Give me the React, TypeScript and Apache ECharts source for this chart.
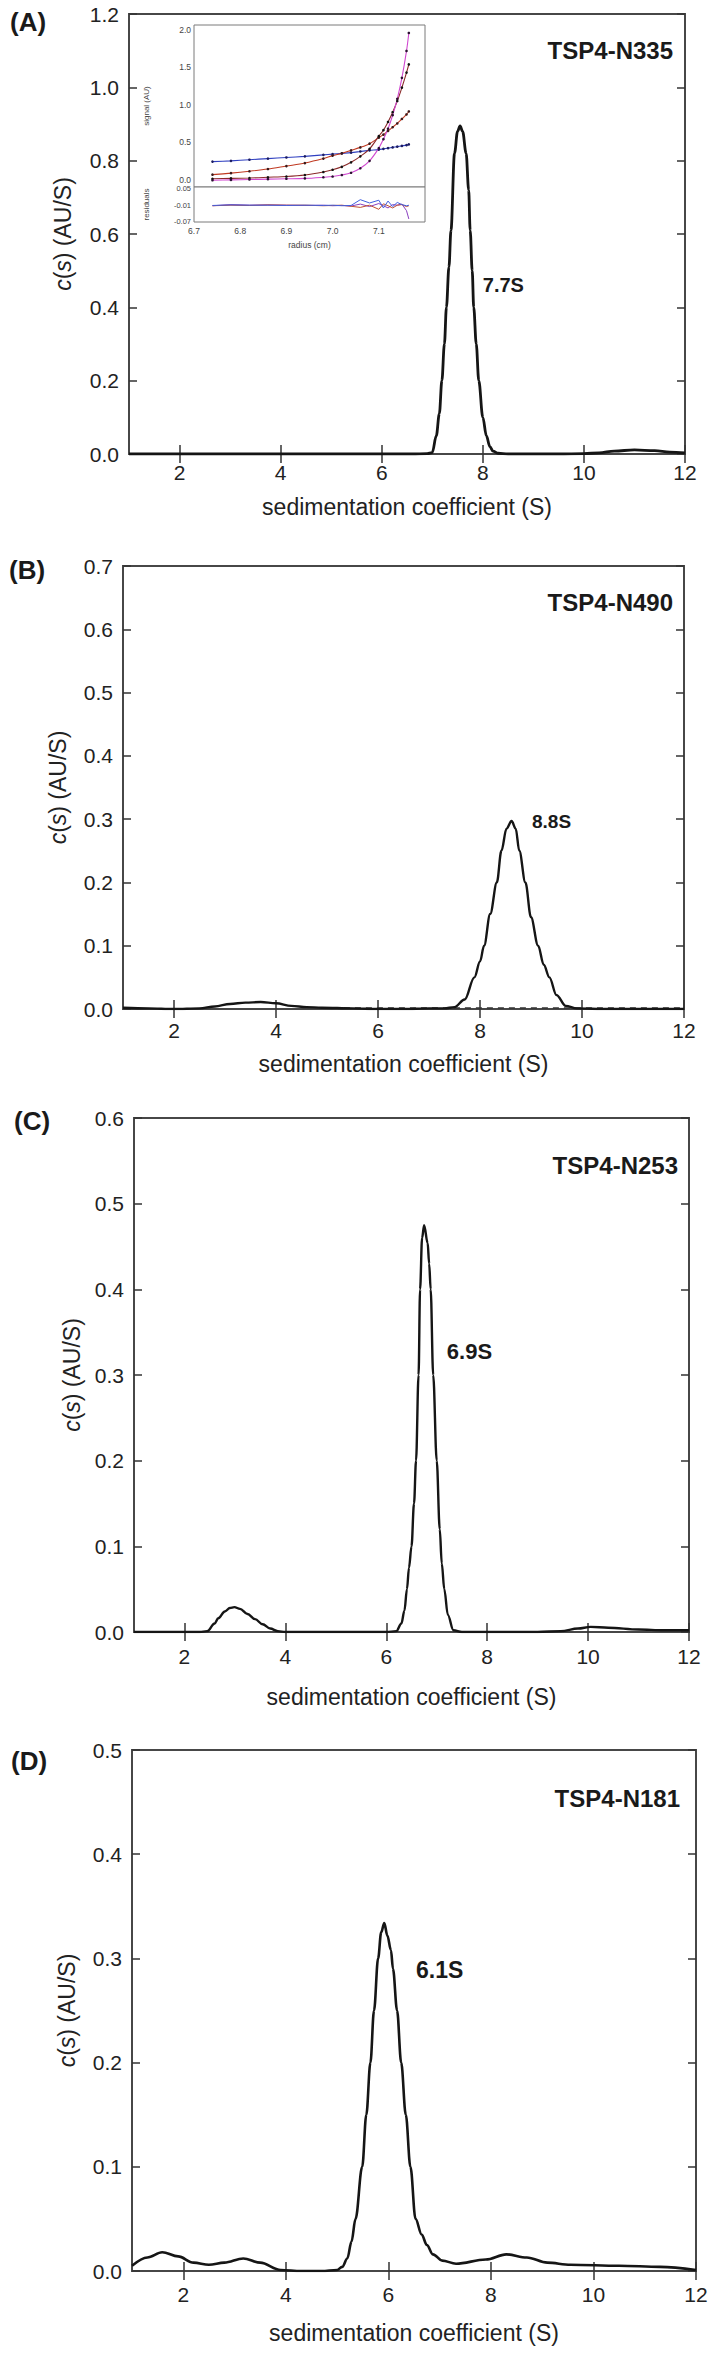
import React, { useEffect, useRef } from "react";
import * as echarts from "echarts";

// ---------------- data ----------------
const xTicks = [2, 4, 6, 8, 10, 12];

// Panel A: TSP4-N335
const aS = [1, 2, 3, 4, 5, 6, 6.6, 6.9, 7.0, 7.08, 7.14, 7.19, 7.24, 7.28, 7.33, 7.37, 7.44, 7.5, 7.55, 7.6, 7.67, 7.72, 7.75, 7.79, 7.82, 7.87, 7.92, 8.0, 8.07, 8.14, 8.2, 8.3, 8.5, 9, 9.5, 10, 10.3, 10.6, 11.0, 11.4, 11.7, 12];
const aC = [0, 0, 0, 0, 0, 0, 0, 0.001, 0.004, 0.05, 0.11, 0.2, 0.3, 0.4, 0.51, 0.61, 0.82, 0.88, 0.895, 0.88, 0.82, 0.72, 0.61, 0.5, 0.4, 0.3, 0.2, 0.1, 0.05, 0.02, 0.008, 0.002, 0, 0, 0, 0.001, 0.003, 0.008, 0.011, 0.009, 0.005, 0.003];

// Panel B: TSP4-N490
const bS = [1, 1.5, 2, 2.5, 2.8, 3.1, 3.4, 3.7, 4.0, 4.3, 4.6, 4.9, 5.5, 6, 6.5, 7, 7.3, 7.5, 7.7, 7.89, 8.0, 8.08, 8.2, 8.33, 8.42, 8.52, 8.62, 8.7, 8.77, 8.89, 9.0, 9.14, 9.25, 9.36, 9.5, 9.68, 9.9, 10.5, 11, 11.5, 12];
const bC = [0.002, 0.001, 0.0, 0.001, 0.004, 0.008, 0.01, 0.011, 0.009, 0.005, 0.003, 0.002, 0.001, 0.0, 0.0, 0.001, 0.001, 0.003, 0.015, 0.05, 0.075, 0.1, 0.15, 0.2, 0.25, 0.285, 0.297, 0.285, 0.25, 0.2, 0.145, 0.1, 0.07, 0.05, 0.022, 0.005, 0.001, 0, 0, 0, 0];
const bDashS = [4.9, 6, 7, 8, 9, 10, 11, 12];
const bDashC = [0.0015, 0.0015, 0.0015, 0.0015, 0.0015, 0.0015, 0.0015, 0.0015];

// Panel C: TSP4-N253
const cS = [1, 2, 2.3, 2.45, 2.6, 2.67, 2.8, 2.9, 2.99, 3.1, 3.25, 3.4, 3.55, 3.7, 3.85, 4.0, 4.5, 5, 5.5, 6.0, 6.2, 6.3, 6.36, 6.41, 6.45, 6.5, 6.55, 6.59, 6.64, 6.67, 6.71, 6.75, 6.82, 6.85, 6.88, 6.93, 7.0, 7.06, 7.1, 7.15, 7.22, 7.33, 7.5, 8, 9, 9.46, 9.8, 10.05, 10.4, 11, 11.5, 12];
const cC = [0, 0, 0, 0.001, 0.01, 0.016, 0.024, 0.028, 0.029, 0.027, 0.021, 0.015, 0.009, 0.004, 0.001, 0, 0, 0, 0, 0, 0.001, 0.01, 0.025, 0.05, 0.075, 0.1, 0.15, 0.2, 0.3, 0.4, 0.46, 0.475, 0.454, 0.43, 0.4, 0.3, 0.2, 0.12, 0.08, 0.05, 0.02, 0.002, 0, 0, 0, 0.001, 0.004, 0.006, 0.005, 0.003, 0.002, 0.002];

// Panel D: TSP4-N181
const dS = [1, 1.3, 1.59, 1.9, 2.2, 2.5, 2.8, 3.17, 3.5, 3.9, 4.3, 4.7, 5.0, 5.1, 5.2, 5.28, 5.36, 5.49, 5.57, 5.65, 5.72, 5.8, 5.86, 5.92, 5.98, 6.05, 6.09, 6.17, 6.25, 6.34, 6.43, 6.53, 6.65, 6.75, 6.87, 7.05, 7.32, 7.9, 8.3, 8.7, 9.1, 9.55, 10.5, 11.3, 12];
const dC = [0.005, 0.013, 0.018, 0.014, 0.008, 0.006, 0.008, 0.012, 0.008, 0.001, 0, 0, 0.001, 0.004, 0.012, 0.028, 0.05, 0.1, 0.15, 0.2, 0.25, 0.3, 0.325, 0.334, 0.322, 0.308, 0.29, 0.25, 0.2, 0.15, 0.1, 0.05, 0.035, 0.025, 0.016, 0.01, 0.007, 0.011, 0.016, 0.013, 0.008, 0.006, 0.005, 0.004, 0.001];

const panelLetters = ["(A)", "(B)", "(C)", "(D)"];
const sampleNames = ["TSP4-N335", "TSP4-N490", "TSP4-N253", "TSP4-N181"];
const peakLabels = ["7.7S", "8.8S", "6.9S", "6.1S"];
const peakLabelAt = [[8.0, 0.46], [9.02, 0.297], [7.2, 0.327], [6.54, 0.289]];
const yMaxes = [1.2, 0.7, 0.6, 0.5];
const yIntervals = [0.2, 0.1, 0.1, 0.1];

// Inset (panel A): raw data and fits
const insetR = [6.74, 6.78, 6.82, 6.86, 6.9, 6.94, 6.98, 7.0, 7.02, 7.04, 7.06, 7.08, 7.1, 7.11, 7.12, 7.13, 7.14, 7.15, 7.16, 7.165];
const insetBlue = [0.24, 0.25, 0.265, 0.28, 0.295, 0.31, 0.33, 0.34, 0.35, 0.36, 0.375, 0.39, 0.4, 0.41, 0.42, 0.43, 0.44, 0.45, 0.46, 0.47];
const insetRed = [0.065, 0.085, 0.11, 0.14, 0.18, 0.22, 0.28, 0.32, 0.35, 0.39, 0.43, 0.48, 0.56, 0.6, 0.65, 0.7, 0.75, 0.81, 0.87, 0.91];
const insetBlack = [0.01, 0.015, 0.02, 0.03, 0.04, 0.06, 0.1, 0.13, 0.17, 0.23, 0.31, 0.41, 0.58, 0.66, 0.77, 0.9, 1.05, 1.23, 1.43, 1.54];
const insetMagenta = [-0.01, -0.005, 0.0, 0.005, 0.01, 0.015, 0.03, 0.04, 0.06, 0.09, 0.15, 0.25, 0.42, 0.54, 0.68, 0.86, 1.08, 1.36, 1.72, 1.96];
const residPurple = [-0.012, -0.008, -0.01, -0.009, -0.01, -0.011, -0.01, -0.012, -0.011, -0.013, -0.006, -0.015, -0.004, -0.012, -0.02, -0.008, -0.01, -0.006, -0.03, -0.06];
const residBlue = [-0.011, -0.009, -0.01, -0.01, -0.011, -0.01, -0.011, -0.01, -0.012, -0.011, 0.01, -0.002, 0.008, -0.02, 0.005, -0.015, 0.0, -0.008, -0.012, -0.01];
const residRed = [-0.012, -0.01, -0.011, -0.009, -0.01, -0.01, -0.012, -0.011, -0.01, -0.014, -0.018, -0.01, -0.025, -0.005, -0.012, -0.02, -0.01, -0.008, -0.015, -0.012];
const insetXTicks = [6.7, 6.8, 6.9, 7.0, 7.1];
const insetYTicks = [0, 0.5, 1.0, 1.5, 2.0];
const residTicks = [-0.07, -0.01, 0.05];

// ---------------- layout / style ----------------
const W = 714;
const H = 2363;
const FONT = "'Liberation Sans', Arial, Helvetica, sans-serif";
const INK = "#151515";
const AXIS = "#474747";
const TXT = "#222";

const layout = [
  { left: 129, top: 14, width: 556, height: 440, tickMargin: 8, nameGapX: 41, nameGapY: 55, letterX: 10, letterY: 22, sampleDx: 12, sampleDy: 36, peakFont: 20, lw: 2.8 },
  { left: 123, top: 566, width: 561, height: 443, tickMargin: 11, nameGapX: 43, nameGapY: 54, letterX: 9, letterY: 570, sampleDx: 11, sampleDy: 36, peakFont: 19, lw: 2.4 },
  { left: 134, top: 1118, width: 555, height: 514, tickMargin: 14, nameGapX: 53, nameGapY: 49, letterX: 14, letterY: 1121, sampleDx: 11, sampleDy: 47, peakFont: 22, lw: 2.4 },
  { left: 132, top: 1750, width: 564, height: 521, tickMargin: 13, nameGapX: 50, nameGapY: 54, letterX: 11, letterY: 1761, sampleDx: 16, sampleDy: 48, peakFont: 23, lw: 2.6 },
];
const insetUpper = { left: 194, top: 25, width: 231, height: 162 };
const insetLower = { left: 194, top: 187, width: 231, height: 35 };

const zip = (xs: number[], ys: number[]) => xs.slice(0, Math.min(xs.length, ys.length)).map((x, i) => [x, ys[i]]);

function buildOption() {
  const grids: any[] = [];
  const xAxes: any[] = [];
  const yAxes: any[] = [];
  const series: any[] = [];
  const graphic: any[] = [];
  const curves = [zip(aS, aC), zip(bS, bC), zip(cS, cC), zip(dS, dC)];

  const tickStyle = { color: "#333", width: 1.5 };

  layout.forEach((L, i) => {
    grids.push({ left: L.left, top: L.top, width: L.width, height: L.height, show: true, borderColor: AXIS, borderWidth: 2, backgroundColor: "transparent" });
    const xBase = { type: "value", gridIndex: i, min: 1, max: 12, splitLine: { show: false }, axisLine: { show: false } };
    xAxes.push({
      ...xBase,
      position: "bottom",
      axisTick: { show: true, inside: true, length: 9, customValues: xTicks, lineStyle: tickStyle },
      axisLabel: { show: true, customValues: xTicks, margin: L.tickMargin, fontSize: 21, color: TXT, fontFamily: FONT },
      name: "sedimentation coefficient (S)",
      nameLocation: "middle",
      nameGap: L.nameGapX,
      nameTextStyle: { fontSize: 23, color: TXT, fontFamily: FONT },
    });
    xAxes.push({
      ...xBase,
      position: "top",
      axisTick: { show: true, inside: true, length: 9, customValues: xTicks, lineStyle: tickStyle },
      axisLabel: { show: false },
    });
    const yBase = { type: "value", gridIndex: i, min: 0, max: yMaxes[i], interval: yIntervals[i], splitLine: { show: false }, axisLine: { show: false } };
    yAxes.push({
      ...yBase,
      position: "left",
      axisTick: { show: true, inside: true, length: 8, lineStyle: tickStyle },
      axisLabel: { show: true, margin: 10, fontSize: 21, color: TXT, fontFamily: FONT, formatter: (v: number) => v.toFixed(1) },
      name: "{i|c}({i|s}) (AU/S)",
      nameLocation: "middle",
      nameGap: L.nameGapY,
      nameTextStyle: { fontSize: 23, color: TXT, fontFamily: FONT, rich: { i: { fontSize: 23, fontStyle: "italic", color: TXT, fontFamily: FONT } } },
    });
    yAxes.push({
      ...yBase,
      position: "right",
      axisTick: { show: true, inside: true, length: 8, lineStyle: tickStyle },
      axisLabel: { show: false },
    });

    series.push({
      type: "line",
      xAxisIndex: 2 * i,
      yAxisIndex: 2 * i,
      data: curves[i],
      showSymbol: false,
      smooth: 0.35,
      smoothMonotone: "x",
      lineStyle: { color: INK, width: L.lw },
      z: 5,
      markPoint: {
        symbol: "circle",
        symbolSize: 0,
        silent: true,
        itemStyle: { color: "transparent" },
        label: { show: true, position: "right", distance: 0, formatter: "{b}", fontSize: L.peakFont, fontWeight: "bold", color: "#1a1a1a", fontFamily: FONT },
        data: [{ name: peakLabels[i], coord: peakLabelAt[i] }],
      },
    });

    graphic.push({ type: "text", x: L.letterX, y: L.letterY, z: 10, style: { text: panelLetters[i], font: `bold 26px ${FONT}`, fill: "#1a1a1a", align: "left", verticalAlign: "middle" } });
    graphic.push({ type: "text", x: L.left + L.width - L.sampleDx, y: L.top + L.sampleDy, z: 10, style: { text: sampleNames[i], font: `bold 24px ${FONT}`, fill: "#1a1a1a", align: "right", verticalAlign: "middle" } });
  });

  // dashed baseline in panel B
  series.push({
    type: "line",
    xAxisIndex: 2,
    yAxisIndex: 2,
    data: zip(bDashS, bDashC),
    showSymbol: false,
    lineStyle: { color: "#333", width: 1.6, type: [6, 5] },
    z: 4,
  });

  // ---------- inset ----------
  const gU = grids.length;
  grids.push({ ...insetUpper, show: true, borderColor: "#7a7a7a", borderWidth: 1, backgroundColor: "#fff", z: 3 });
  const gL = grids.length;
  grids.push({ ...insetLower, show: true, borderColor: "#7a7a7a", borderWidth: 1, backgroundColor: "#fff", z: 3 });

  const smallTick = { color: "#555", width: 1 };
  const smallLabel = { fontSize: 8.5, color: "#444", fontFamily: FONT };
  const xiU = xAxes.length;
  xAxes.push({ type: "value", gridIndex: gU, min: 6.7, max: 7.2, position: "bottom", axisLine: { show: false }, splitLine: { show: false }, axisTick: { inside: true, length: 3, customValues: insetXTicks, lineStyle: smallTick }, axisLabel: { show: false } });
  xAxes.push({ type: "value", gridIndex: gU, min: 6.7, max: 7.2, position: "top", axisLine: { show: false }, splitLine: { show: false }, axisTick: { inside: true, length: 3, customValues: insetXTicks, lineStyle: smallTick }, axisLabel: { show: false } });
  const xiL = xAxes.length;
  xAxes.push({
    type: "value", gridIndex: gL, min: 6.7, max: 7.2, position: "bottom", axisLine: { show: false }, splitLine: { show: false },
    axisTick: { inside: true, length: 3, customValues: insetXTicks, lineStyle: smallTick },
    axisLabel: { customValues: insetXTicks, margin: 4, ...smallLabel, formatter: (v: number) => v.toFixed(1) },
    name: "radius (cm)", nameLocation: "middle", nameGap: 18, nameTextStyle: { ...smallLabel },
  });

  const yiU = yAxes.length;
  yAxes.push({
    type: "value", gridIndex: gU, min: -0.1, max: 2.067, position: "left", axisLine: { show: false }, splitLine: { show: false },
    axisTick: { inside: true, length: 3, customValues: insetYTicks, lineStyle: smallTick },
    axisLabel: { customValues: insetYTicks, margin: 3, ...smallLabel, formatter: (v: number) => v.toFixed(1) },
    name: "signal (AU)", nameLocation: "middle", nameGap: 44, nameTextStyle: { ...smallLabel, fontSize: 8 },
  });
  yAxes.push({ type: "value", gridIndex: gU, min: -0.1, max: 2.067, position: "right", axisLine: { show: false }, splitLine: { show: false }, axisTick: { inside: true, length: 3, customValues: insetYTicks, lineStyle: smallTick }, axisLabel: { show: false } });
  const yiL = yAxes.length;
  yAxes.push({
    type: "value", gridIndex: gL, min: -0.071, max: 0.056, position: "left", axisLine: { show: false }, splitLine: { show: false },
    axisTick: { inside: true, length: 3, customValues: residTicks, lineStyle: smallTick },
    axisLabel: { customValues: residTicks, margin: 3, ...smallLabel, fontSize: 7.5, formatter: (v: number) => v.toFixed(2) },
    name: "residuals", nameLocation: "middle", nameGap: 44, nameTextStyle: { ...smallLabel, fontSize: 8 },
  });
  yAxes.push({ type: "value", gridIndex: gL, min: -0.071, max: 0.056, position: "right", axisLine: { show: false }, splitLine: { show: false }, axisTick: { inside: true, length: 3, customValues: residTicks, lineStyle: smallTick }, axisLabel: { show: false } });

  const insetSets = [
    { d: insetBlue, line: "#3040c0", dot: "#1c1c60" },
    { d: insetRed, line: "#c03a22", dot: "#3a1a1a" },
    { d: insetBlack, line: "#8a2a2a", dot: "#111" },
    { d: insetMagenta, line: "#d048d0", dot: "#2a1030" },
  ];
  insetSets.forEach((s) => {
    series.push({
      type: "line", xAxisIndex: xiU, yAxisIndex: yiU, data: zip(insetR, s.d), smooth: 0.3,
      showSymbol: true, symbol: "circle", symbolSize: 2.6, itemStyle: { color: s.dot },
      lineStyle: { color: s.line, width: 1.1 }, z: 6,
    });
  });
  const residSets = [
    { d: residPurple, c: "#8a40c0" },
    { d: residRed, c: "#c05030" },
    { d: residBlue, c: "#4060e0" },
  ];
  residSets.forEach((s) => {
    series.push({ type: "line", xAxisIndex: xiL, yAxisIndex: yiL, data: zip(insetR, s.d), showSymbol: false, lineStyle: { color: s.c, width: 1 }, z: 6 });
  });

  return {
    animation: false,
    backgroundColor: "#fff",
    textStyle: { fontFamily: FONT },
    grid: grids,
    xAxis: xAxes,
    yAxis: yAxes,
    series,
    graphic,
  };
}

export default function App() {
  const ref = useRef<HTMLDivElement>(null);
  useEffect(() => {
    document.body.style.margin = "0";
    const chart = echarts.init(ref.current as HTMLDivElement, null, { renderer: "svg" });
    chart.setOption(buildOption() as any);
    return () => chart.dispose();
  }, []);
  return <div ref={ref} style={{ position: "absolute", left: 0, top: 0, width: W, height: H, background: "#fff" }} />;
}
